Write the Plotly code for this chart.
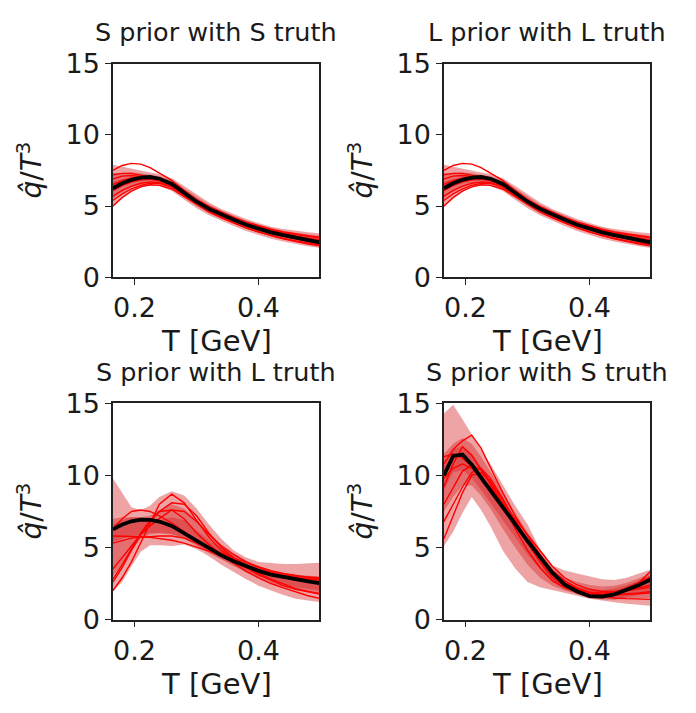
import plotly.graph_objects as go

# ---------------- data ----------------
T = [0.165, 0.18, 0.195, 0.21, 0.225, 0.24, 0.26, 0.28, 0.30, 0.32,
     0.34, 0.36, 0.38, 0.40, 0.42, 0.44, 0.46, 0.48, 0.50]

titles = ["S prior with S truth", "L prior with L truth",
          "S prior with L truth", "S prior with S truth"]
x_ticks = [0.2, 0.4]
x_tick_labels = ["0.2", "0.4"]
y_ticks = [0, 5, 10, 15]
y_tick_labels = ["0", "5", "10", "15"]

# panel 1 / panel 2 (same-prior closure tests)
ss_median = [6.25, 6.6, 6.85, 7.0, 7.04, 6.92, 6.55, 5.9, 5.3, 4.8,
             4.4, 4.03, 3.68, 3.4, 3.15, 2.95, 2.78, 2.6, 2.43]
ss_lines = [
    [7.5, 7.85, 8.0, 7.95, 7.7, 7.3, 6.8, 6.1, 5.45, 4.9, 4.45, 4.07, 3.73, 3.45, 3.22, 3.03, 2.87, 2.73, 2.6],
    [5.0, 5.6, 6.05, 6.35, 6.5, 6.45, 6.2, 5.65, 5.08, 4.58, 4.17, 3.8, 3.46, 3.17, 2.92, 2.72, 2.55, 2.4, 2.26],
    [6.9, 7.1, 7.15, 7.1, 7.0, 6.85, 6.55, 6.0, 5.45, 4.97, 4.56, 4.2, 3.88, 3.6, 3.37, 3.18, 3.03, 2.91, 2.8],
    [5.7, 6.1, 6.4, 6.6, 6.7, 6.65, 6.35, 5.75, 5.15, 4.62, 4.2, 3.82, 3.48, 3.18, 2.92, 2.7, 2.5, 2.33, 2.18],
    [6.5, 6.8, 6.95, 7.0, 6.95, 6.8, 6.45, 5.85, 5.27, 4.78, 4.4, 4.07, 3.77, 3.52, 3.3, 3.12, 2.98, 2.86, 2.75],
    [6.1, 6.45, 6.7, 6.85, 6.9, 6.8, 6.5, 5.9, 5.3, 4.8, 4.4, 4.02, 3.66, 3.36, 3.1, 2.88, 2.7, 2.52, 2.36],
    [5.4, 5.85, 6.2, 6.45, 6.6, 6.6, 6.35, 5.8, 5.25, 4.76, 4.36, 4.0, 3.66, 3.38, 3.14, 2.94, 2.78, 2.64, 2.52],
    [7.2, 7.3, 7.3, 7.2, 7.05, 6.88, 6.55, 5.95, 5.35, 4.83, 4.4, 4.03, 3.69, 3.4, 3.15, 2.94, 2.76, 2.6, 2.47],
]
ss_band_lo = [
    [4.9, 5.5, 6.0, 6.3, 6.45, 6.4, 6.05, 5.45, 4.85, 4.35, 3.95, 3.6, 3.25, 2.95, 2.7, 2.5, 2.32, 2.18, 2.05],
    [5.5, 5.95, 6.3, 6.5, 6.6, 6.5, 6.2, 5.6, 5.0, 4.5, 4.1, 3.75, 3.4, 3.12, 2.87, 2.66, 2.48, 2.32, 2.2],
    [6.0, 6.35, 6.6, 6.75, 6.8, 6.7, 6.35, 5.72, 5.12, 4.62, 4.22, 3.86, 3.52, 3.24, 2.99, 2.78, 2.6, 2.44, 2.3],
]
ss_band_hi = [
    [7.9, 7.75, 7.6, 7.45, 7.35, 7.25, 6.95, 6.4, 5.8, 5.25, 4.8, 4.42, 4.08, 3.8, 3.55, 3.38, 3.25, 3.15, 3.08],
    [7.3, 7.35, 7.35, 7.3, 7.2, 7.1, 6.8, 6.25, 5.65, 5.1, 4.67, 4.3, 3.97, 3.68, 3.45, 3.27, 3.12, 3.0, 2.9],
    [6.7, 6.9, 7.05, 7.12, 7.12, 7.05, 6.72, 6.08, 5.48, 4.97, 4.57, 4.2, 3.85, 3.56, 3.32, 3.12, 2.96, 2.8, 2.66],
]

# panel 3 (S prior with L truth)
sl_median = [6.26, 6.6, 6.82, 6.93, 6.92, 6.8, 6.5, 6.0, 5.45, 4.95,
             4.45, 4.05, 3.7, 3.38, 3.12, 2.95, 2.8, 2.65, 2.52]
sl_lines = [
    [2.0, 2.9, 4.0, 5.3, 6.7, 8.0, 8.7, 8.1, 6.9, 5.7, 4.8, 4.2, 3.6, 3.1, 2.7, 2.35, 2.1, 1.9, 1.75],
    [2.6, 3.6, 4.8, 5.9, 6.8, 7.5, 8.1, 8.0, 7.2, 6.0, 5.0, 4.3, 3.7, 3.2, 2.8, 2.45, 2.15, 1.95, 1.8],
    [3.5, 4.3, 5.1, 5.9, 6.5, 7.0, 7.6, 7.5, 6.8, 5.9, 5.1, 4.5, 4.0, 3.6, 3.3, 3.1, 3.0, 2.95, 2.9],
    [6.3, 7.0, 7.5, 7.6, 7.5, 7.2, 6.7, 6.1, 5.5, 5.0, 4.6, 4.25, 3.95, 3.65, 3.4, 3.2, 3.05, 2.9, 2.8],
    [5.3, 5.5, 5.65, 5.7, 5.75, 5.8, 5.8, 5.65, 5.3, 4.9, 4.45, 4.0, 3.6, 3.3, 3.1, 2.95, 2.85, 2.8, 2.75],
    [5.8, 5.8, 5.75, 5.75, 5.7, 5.6, 5.5, 5.3, 5.05, 4.75, 4.4, 4.05, 3.7, 3.4, 3.15, 3.0, 2.9, 2.85, 2.8],
    [2.8, 3.8, 4.9, 6.0, 6.9, 7.5, 7.6, 7.0, 6.0, 5.2, 4.5, 3.9, 3.35, 2.9, 2.5, 2.2, 1.9, 1.65, 1.45],
]
sl_band_lo = [
    [2.0, 2.6, 3.7, 4.7, 5.15, 5.15, 5.1, 5.2, 4.9, 4.4, 3.8, 3.3, 2.8, 2.35, 2.0, 1.7, 1.45, 1.3, 1.2],
    [3.0, 3.8, 4.8, 5.6, 5.9, 6.0, 5.9, 5.7, 5.2, 4.7, 4.2, 3.7, 3.25, 2.85, 2.5, 2.25, 2.05, 1.9, 1.8],
    [5.4, 5.6, 5.8, 5.9, 6.0, 6.0, 5.95, 5.6, 5.1, 4.6, 4.15, 3.75, 3.35, 3.0, 2.7, 2.45, 2.25, 2.1, 2.0],
]
sl_band_hi = [
    [9.8, 8.8, 7.8, 7.6, 7.9, 8.5, 8.9, 8.6, 7.7, 6.6, 5.6, 4.8, 4.3, 4.0, 3.9, 3.85, 3.85, 3.9, 3.95],
    [7.0, 7.1, 7.1, 7.1, 7.2, 7.6, 8.0, 7.7, 6.9, 6.0, 5.2, 4.6, 4.1, 3.7, 3.4, 3.2, 3.1, 3.05, 3.0],
    [6.6, 6.9, 7.1, 7.1, 7.0, 6.9, 7.1, 6.9, 6.2, 5.5, 4.9, 4.4, 4.0, 3.65, 3.4, 3.2, 3.1, 3.0, 2.95],
]

# panel 4 (S prior with S truth, peaked)
sp_median = [10.0, 11.35, 11.45, 10.75, 9.85, 8.95, 7.75, 6.6, 5.45, 4.35,
             3.25, 2.42, 1.95, 1.63, 1.6, 1.75, 2.05, 2.4, 2.8]
sp_lines = [
    [10.8, 11.8, 12.4, 12.8, 11.9, 10.6, 8.8, 7.2, 5.8, 4.5, 3.4, 2.7, 2.2, 1.9, 1.75, 1.7, 1.75, 1.85, 1.95],
    [9.2, 10.8, 12.0, 11.4, 10.4, 9.4, 8.0, 6.7, 5.4, 4.2, 3.1, 2.45, 2.05, 1.8, 1.7, 1.75, 2.0, 2.6, 3.4],
    [8.0, 9.2, 10.3, 10.7, 10.4, 9.6, 8.3, 6.9, 5.5, 4.3, 3.2, 2.5, 2.1, 1.9, 1.85, 1.9, 2.0, 2.1, 2.25],
    [6.8, 8.0, 9.2, 10.2, 10.5, 9.8, 8.4, 6.8, 5.3, 4.0, 2.9, 2.3, 2.0, 1.8, 1.7, 1.7, 1.75, 1.8, 1.85],
    [11.3, 11.5, 11.2, 10.6, 9.8, 9.0, 7.8, 6.6, 5.4, 4.3, 3.3, 2.6, 2.15, 1.85, 1.65, 1.5, 1.45, 1.4, 1.4],
    [5.6, 7.2, 8.8, 10.0, 10.2, 9.5, 8.0, 6.3, 4.8, 3.6, 2.7, 2.2, 1.95, 1.8, 1.75, 1.9, 2.2, 2.6, 3.0],
    [9.8, 10.5, 10.8, 10.5, 9.9, 9.2, 8.1, 7.0, 5.9, 4.8, 3.7, 2.9, 2.4, 2.1, 1.95, 1.95, 2.05, 2.2, 2.4],
]
sp_band_lo = [
    [5.1, 6.1, 7.4, 8.5, 7.6, 6.5, 4.8, 3.55, 2.6, 2.25, 2.05, 1.85, 1.65, 1.45, 1.3, 1.2, 1.1, 1.0, 0.95],
    [7.5, 8.5, 9.3, 9.3, 8.6, 7.7, 6.3, 5.0, 3.8, 2.9, 2.35, 2.0, 1.8, 1.6, 1.45, 1.4, 1.4, 1.45, 1.5],
    [9.0, 10.2, 10.4, 9.8, 9.0, 8.1, 6.9, 5.7, 4.5, 3.5, 2.6, 2.1, 1.75, 1.5, 1.4, 1.4, 1.55, 1.7, 1.9],
]
sp_band_hi = [
    [14.3, 14.9, 13.9, 12.8, 11.8, 10.8, 9.3, 7.9, 6.6, 4.9, 3.75, 3.4, 3.2, 3.0, 2.8, 2.75, 2.9, 3.2, 3.5],
    [11.5, 12.2, 12.6, 12.2, 11.3, 10.3, 8.9, 7.4, 6.0, 4.7, 3.6, 2.9, 2.6, 2.4, 2.3, 2.35, 2.55, 2.85, 3.2],
    [11.0, 11.8, 12.0, 11.5, 10.6, 9.6, 8.3, 7.0, 5.7, 4.5, 3.4, 2.7, 2.3, 2.1, 2.05, 2.15, 2.4, 2.7, 3.1],
]

panels = [
    (ss_median, ss_lines, ss_band_lo, ss_band_hi),
    (ss_median, ss_lines, ss_band_lo, ss_band_hi),
    (sl_median, sl_lines, sl_band_lo, sl_band_hi),
    (sp_median, sp_lines, sp_band_lo, sp_band_hi),
]

# ---------------- layout geometry ----------------
W, H = 696, 713
x_doms = [[113 / W, 319 / W], [444 / W, 650 / W]]
y_doms = [[1 - 273 / H, 1 - 50 / H], [1 - 631 / H, 1 - 405 / H]]

FONT = "DejaVu Sans"
BAND = "rgba(214,39,40,0.42)"
AXC = "#222222"

fig = go.Figure()

for i, (med, lines, blo, bhi) in enumerate(panels):
    xa = "x" if i == 0 else f"x{i+1}"
    ya = "y" if i == 0 else f"y{i+1}"
    for lo, hi in zip(blo, bhi):
        fig.add_trace(go.Scatter(
            x=T + T[::-1], y=hi + lo[::-1], fill="toself", fillcolor=BAND,
            mode="lines", line=dict(width=0), hoverinfo="skip",
            showlegend=False, xaxis=xa, yaxis=ya))
    for ln in lines:
        fig.add_trace(go.Scatter(
            x=T, y=ln, mode="lines", line=dict(color="#ff0000", width=1.4),
            showlegend=False, xaxis=xa, yaxis=ya))
    fig.add_trace(go.Scatter(
        x=T, y=med, mode="lines", line=dict(color="black", width=3.8),
        showlegend=False, xaxis=xa, yaxis=ya))

layout = dict(
    width=W, height=H, margin=dict(l=0, r=0, t=0, b=0),
    paper_bgcolor="white", plot_bgcolor="white",
    font=dict(family=FONT, color="#1a1a1a"),
    showlegend=False,
)
annotations = []
for i in range(4):
    r, c = divmod(i, 2)
    xk = "xaxis" if i == 0 else f"xaxis{i+1}"
    yk = "yaxis" if i == 0 else f"yaxis{i+1}"
    ya_name = "y" if i == 0 else f"y{i+1}"
    xa_name = "x" if i == 0 else f"x{i+1}"
    layout[xk] = dict(
        domain=x_doms[c], anchor=ya_name, range=[0.1652, 0.4975],
        tickvals=x_ticks, ticktext=x_tick_labels, ticks="outside", ticklen=6,
        tickwidth=1.3, tickcolor=AXC, showline=True, linecolor=AXC,
        linewidth=1.5, mirror=True, showgrid=False, zeroline=False,
        tickfont=dict(family=FONT, size=27, color="#1a1a1a"))
    layout[yk] = dict(
        domain=y_doms[r], anchor=xa_name, range=[0, 15],
        tickvals=y_ticks, ticktext=y_tick_labels, ticks="outside", ticklen=6,
        tickwidth=1.3, tickcolor=AXC, showline=True, linecolor=AXC,
        linewidth=1.5, mirror=True, showgrid=False, zeroline=False,
        tickfont=dict(family=FONT, size=27, color="#1a1a1a"))
    xc = (x_doms[c][0] + x_doms[c][1]) / 2
    top_px = 50 if r == 0 else 405
    bot_px = 273 if r == 0 else 631
    # title
    annotations.append(dict(
        text=titles[i], x=xc, y=1 - (top_px - 33) / H, xref="paper", yref="paper",
        showarrow=False, xanchor="center", yanchor="middle",
        font=dict(family=FONT, size=25.5, color="#1a1a1a")))
    # x label
    annotations.append(dict(
        text="T [GeV]", x=xc, y=1 - (bot_px + 67) / H, xref="paper", yref="paper",
        showarrow=False, xanchor="center", yanchor="middle",
        font=dict(family=FONT, size=29, color="#1a1a1a")))
    # y label
    x_lab = (30 if c == 0 else 361) / W
    annotations.append(dict(
        text="<i>q\u0302</i>/<i>T</i><sup>3</sup>", x=x_lab,
        y=1 - ((top_px + bot_px) / 2) / H, xref="paper", yref="paper",
        showarrow=False, xanchor="center", yanchor="middle", textangle=-90,
        font=dict(family=FONT, size=28, color="#1a1a1a")))
layout["annotations"] = annotations
fig.update_layout(**layout)

fig.write_html("out.html")
